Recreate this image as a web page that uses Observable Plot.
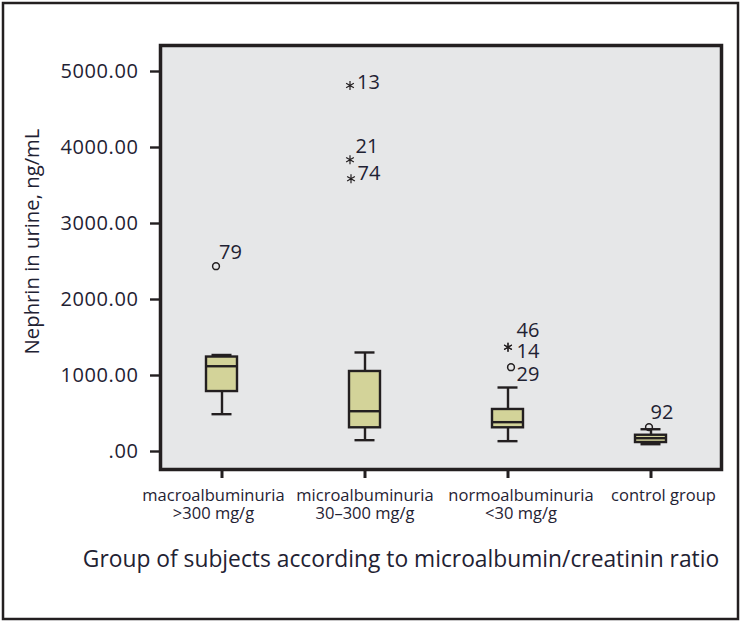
<!DOCTYPE html>
<html>
<head>
<meta charset="utf-8">
<script src="https://cdn.jsdelivr.net/npm/d3@7"></script>
<script src="https://cdn.jsdelivr.net/npm/@observablehq/plot@0.6"></script>
<style>
  html, body { margin: 0; padding: 0; background: #ffffff; }
  #chart { width: 744px; height: 622px; }
</style>
</head>
<body>
<div id="chart"></div>
<script>
// ---- Data ----
const groups = ["macroalbuminuria", "microalbuminuria", "normoalbuminuria", "control group"];
const groupRanges = [">300 mg/g", "30–300 mg/g", "<30 mg/g", ""];
const whiskerLow  = [491, 149, 136, 96];
const quartile1   = [789, 312, 312, 118];
const medians     = [1122, 530, 386, 175];
const quartile3   = [1243, 1053, 553, 214];
const whiskerHigh = [1270, 1303, 842, 293];

const outlierGroup = ["macroalbuminuria", "microalbuminuria", "microalbuminuria", "microalbuminuria",
                      "normoalbuminuria", "normoalbuminuria", "normoalbuminuria", "control group"];
const outlierValue = [2438, 4816, 3838, 3588, 1372, 1372, 1109, 320];
const outlierId    = ["79", "13", "21", "74", "46", "14", "29", "92"];
const outlierKind  = ["outlier", "extreme", "extreme", "extreme", "extreme", "extreme", "outlier", "outlier"];

const yTicks = [0, 1000, 2000, 3000, 4000, 5000];
const yLabel = "Nephrin in urine, ng/mL";
const xLabel = "Group of subjects according to microalbumin/creatinin ratio";

// ---- Label layout (SPSS-style label offsets, in px) ----
const labelLayout = {
  "79": {mdx: -6,  ldx: 3,   ldy: -14},
  "13": {mdx: -15, ldx: 7,   ldy: -3},
  "21": {mdx: -15, ldx: 5.5, ldy: -13},
  "74": {mdx: -14, ldx: 6.5, ldy: -5},
  "46": {mdx: 0,   ldx: 8.5, ldy: -17},
  "14": {mdx: 0,   ldx: 8.5, ldy: 4},
  "29": {mdx: 3,   ldx: 5.5, ldy: 7},
  "92": {mdx: -2,  ldx: 1.5, ldy: -15}
};
const groupLabelDx = [-8.5, 0, 13, 12.5];

// ---- Build tables ----
const boxes = groups.map((g, i) => ({
  group: g, lo: whiskerLow[i], q1: quartile1[i], med: medians[i], q3: quartile3[i], hi: whiskerHigh[i]
}));
const outliers = outlierId.map((id, i) => ({
  group: outlierGroup[i], value: outlierValue[i], id, kind: outlierKind[i]
}));

const ink = "#231f20";
const textInk = "#1f2233";
const boxFill = "#d3d399";

const outlierMarks = outliers.flatMap(o => {
  const L = labelLayout[o.id];
  const marker = o.kind === "extreme"
    ? Plot.dot([o], {x: "group", y: "value", dx: L.mdx, symbol: "asterisk", r: 4.2, stroke: ink, strokeWidth: 1.2})
    : Plot.dot([o], {x: "group", y: "value", dx: L.mdx, symbol: "circle", r: 3.4, stroke: ink, strokeWidth: 1.5, fill: "none"});
  const label = Plot.text([o], {
    x: "group", y: "value", text: "id",
    dx: L.mdx + L.ldx, dy: L.ldy,
    textAnchor: "start", fontSize: 20, fill: textInk
  });
  return [marker, label];
});

// group labels: name on the first line, albumin range on the second
const groupLabelMarks = groups.flatMap((g, i) => {
  const marks = [Plot.text([g], {
    x: d => d, frameAnchor: "bottom", text: d => d, lineAnchor: "top",
    dx: groupLabelDx[i], dy: 20, fontSize: 16.5, fill: textInk, ariaLabel: "group label"
  })];
  if (groupRanges[i]) marks.push(Plot.text([g], {
    x: d => d, frameAnchor: "bottom", text: () => groupRanges[i], lineAnchor: "top",
    dx: groupLabelDx[i], dy: 37.5, fontSize: 16.5, fill: textInk, ariaLabel: "group label"
  }));
  return marks;
});

const chart = Plot.plot({
  width: 744,
  height: 622,
  marginLeft: 160,
  marginRight: 23,
  marginTop: 45,
  marginBottom: 153,
  style: {fontFamily: "'Open Sans', sans-serif", fontSize: "19px", color: ink, background: "#ffffff", overflow: "visible"},
  x: {type: "band", domain: groups, range: [149.4, 722.4], paddingInner: 0.784, paddingOuter: 0.392, align: 0.5},
  y: {type: "linear", domain: [0, 5000], range: [451, 71]},
  marks: [
    Plot.frame({fill: "#e6e7e8"}),
    // whiskers
    Plot.ruleX(boxes, {x: "group", y1: "q3", y2: "hi", stroke: ink, strokeWidth: 2.4}),
    Plot.ruleX(boxes, {x: "group", y1: "lo", y2: "q1", stroke: ink, strokeWidth: 2.4}),
    Plot.tickY(boxes, {x: "group", y: "hi", stroke: ink, strokeWidth: 2.4, insetLeft: 5.5, insetRight: 5.5}),
    Plot.tickY(boxes, {x: "group", y: "lo", stroke: ink, strokeWidth: 2.4, insetLeft: 5.5, insetRight: 5.5}),
    // boxes
    Plot.barY(boxes, {x: "group", y1: "q1", y2: "q3", fill: boxFill, stroke: ink, strokeWidth: 2.4}),
    Plot.tickY(boxes, {x: "group", y: "med", stroke: ink, strokeWidth: 2.4}),
    ...outlierMarks,
    Plot.frame({stroke: ink, strokeWidth: 3.5}),
    // axes
    Plot.axisY({
      ticks: yTicks, tickSize: 10, tickPadding: 12,
      tickFormat: d => d === 0 ? ".00" : d.toFixed(2),
      stroke: ink, strokeWidth: 2.4, fill: textInk, fontSize: 20, label: null
    }),
    Plot.axisX({tickSize: 9, tickFormat: null, stroke: ink, strokeWidth: 3, label: null}),
    ...groupLabelMarks,
    // axis titles
    Plot.text([yLabel], {frameAnchor: "left", text: d => d, rotate: -90, textAnchor: "middle", dx: -128, dy: -16, fontSize: 20.3, fill: textInk}),
    Plot.text([xLabel], {frameAnchor: "bottom", text: d => d, dx: -40, dy: 97, fontSize: 22.8, fill: textInk})
  ]
});

// letter spacing to approximate the reference's wider lettering
d3.select(chart).selectAll('g[aria-label="y-axis tick label"] text').style("letter-spacing", "0.6px");
d3.select(chart).selectAll('g[aria-label="group label"] text').style("letter-spacing", "0.35px");

// outer figure border
d3.select(chart).append("rect")
  .attr("x", 3).attr("y", 3).attr("width", 735).attr("height", 616)
  .attr("fill", "none").attr("stroke", ink).attr("stroke-width", 2.5);

document.getElementById("chart").appendChild(chart);
</script>
</body>
</html>
